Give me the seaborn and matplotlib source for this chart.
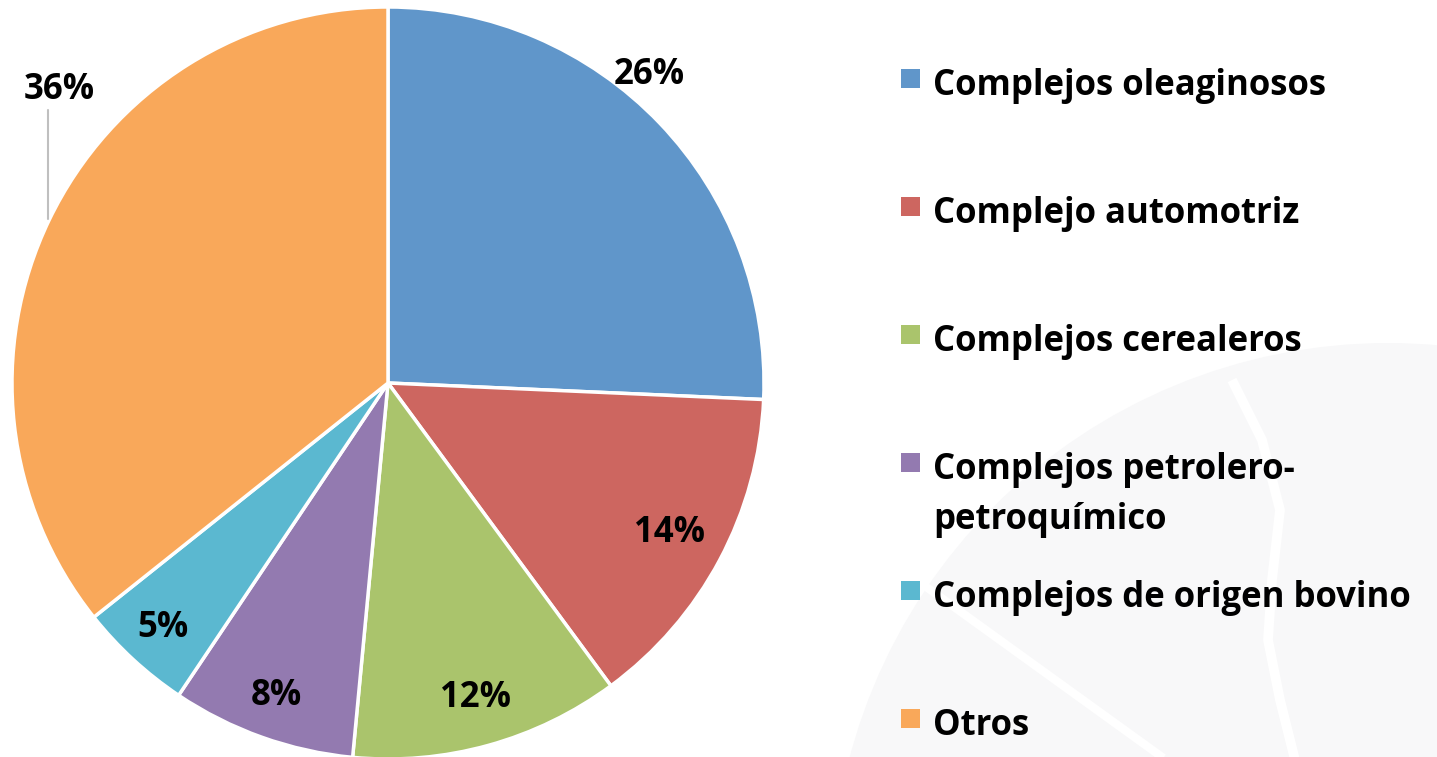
import matplotlib
matplotlib.use("Agg")
import matplotlib.pyplot as plt
import seaborn as sns
import numpy as np
from matplotlib.patches import Rectangle, Circle

# ---- data ----
categories = ["Complejos oleaginosos", "Complejo automotriz", "Complejos cerealeros",
              "Complejos petrolero-\npetroquímico", "Complejos de origen bovino", "Otros"]
values = [25.7, 14.2, 11.6, 7.9, 4.9, 35.7]
pct_labels = ["26%", "14%", "12%", "8%", "5%", "36%"]
colors = ["#6096CA", "#CD6660", "#AAC46C", "#937AB0", "#5BB8D0", "#F9A85A"]

sns.set_theme(style="white")
plt.rcParams['font.family'] = ['Open Sans', 'DejaVu Sans']

W, H = 1437, 757
fig = plt.figure(figsize=(W / 100, H / 100), dpi=100)
fig.patch.set_facecolor("white")

# background decoration (faint watermark)
bg = fig.add_axes([0, 0, 1, 1])
bg.set_xlim(0, W); bg.set_ylim(H, 0); bg.axis("off")
bg.add_patch(Circle((1388, 900), 557, color="#f8f8f9", lw=0, zorder=0.1))
bg.plot([900, 1180], [568, 770], color="white", lw=6, solid_capstyle="butt", zorder=0.2)
bg.plot([1232, 1262, 1280, 1272, 1268, 1280, 1295], [380, 440, 510, 580, 640, 700, 760],
        color="white", lw=7, solid_capstyle="butt", zorder=0.2)

# pie
cx, cy, R = 388, 383, 376
ax = fig.add_axes([(cx - R) / W, (H - cy - R) / H, 2 * R / W, 2 * R / H])
wedges, _ = ax.pie(values, colors=colors, startangle=90, counterclock=False, radius=1,
                   wedgeprops=dict(edgecolor="white", linewidth=2.5))
ax.set_xlim(-1, 1); ax.set_ylim(-1, 1); ax.set_aspect("equal"); ax.axis("off")

FS = 25
# label placement style: (angle offset deg, radius)
label_style = [(6.0, 1.075), (0, 0.85), (0, 0.87), (0, 0.885), (0, 0.885), (-16.0, 1.17)]
for w, lab, (doff, r) in zip(wedges, pct_labels, label_style):
    ang = np.deg2rad((w.theta1 + w.theta2) / 2 + doff)
    x, y = r * np.cos(ang), r * np.sin(ang)
    ax.text(x, y, lab, ha="center", va="center", fontsize=FS, fontweight="bold",
            color="black", clip_on=False)
    if r > 1.1:
        # leader line from label down to pie edge
        xl = x - 0.032
        yedge = np.sqrt(1 - xl ** 2)
        ax.plot([xl, xl], [y - 0.053, yedge + 0.012], color="#bfbfbf", lw=1.5,
                clip_on=False)

# legend (manual)
x_sq, sq = 901, 19
x_txt = 933
y0, dy = 78, 128
line_h = 50
for i, (cat, col) in enumerate(zip(categories, colors)):
    yc = y0 + dy * i
    bg.add_patch(Rectangle((x_sq, yc - sq / 2), sq, sq, color=col, lw=0, zorder=3))
    for j, line in enumerate(cat.split("\n")):
        bg.text(x_txt, yc + 17 + j * line_h, line, ha="left", va="baseline",
                fontsize=FS, fontweight="bold", color="black", zorder=3)

fig.savefig("out.png", dpi=100, facecolor="white")
